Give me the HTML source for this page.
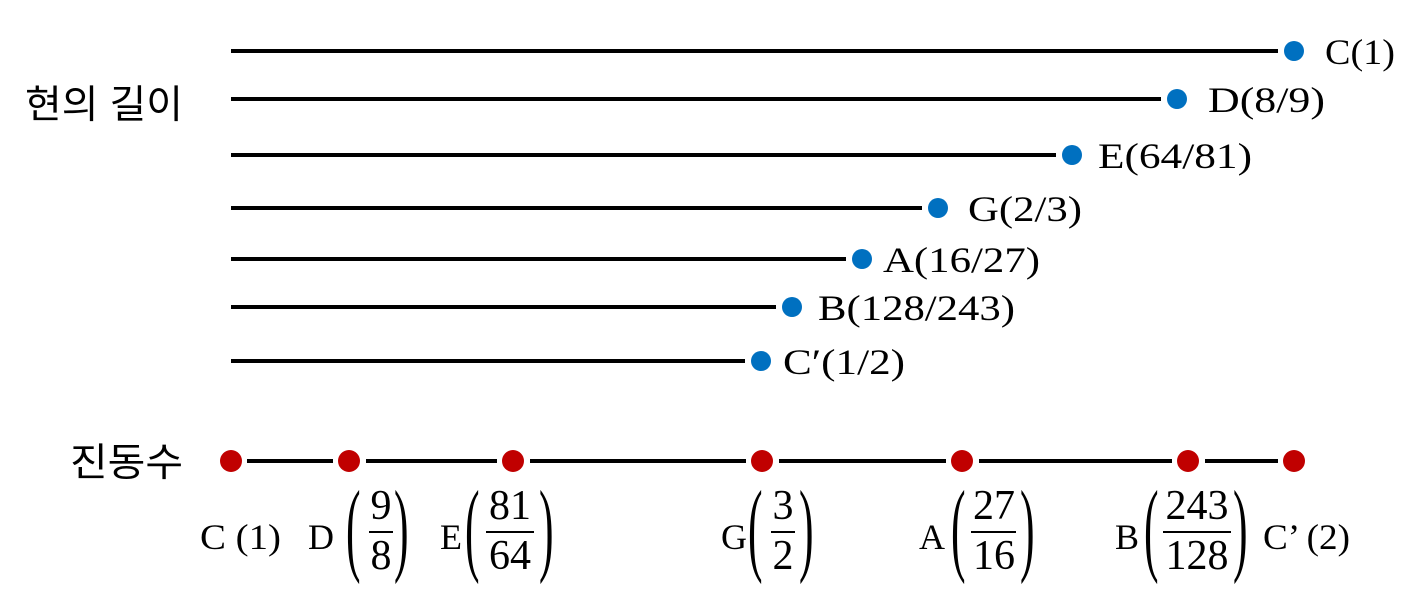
<!DOCTYPE html>
<html><head><meta charset="utf-8"><style>
html,body{margin:0;padding:0;background:#fff;}
svg{display:block;}
.s{font-family:"Liberation Serif",serif;fill:#000;}
.k{font-family:"Liberation Sans","Noto Sans CJK KR",sans-serif;fill:#000;font-size:39px;}
</style></head><body>
<svg width="1417" height="592" viewBox="0 0 1417 592" xmlns="http://www.w3.org/2000/svg">
<g stroke="#000" stroke-width="4">
<line x1="231" y1="51" x2="1278" y2="51"/>
<line x1="231" y1="99" x2="1161" y2="99"/>
<line x1="231" y1="155" x2="1056" y2="155"/>
<line x1="231" y1="208" x2="922" y2="208"/>
<line x1="231" y1="259" x2="846" y2="259"/>
<line x1="231" y1="307" x2="776" y2="307"/>
<line x1="231" y1="361" x2="745" y2="361"/>
</g>
<g fill="#0070c0">
<circle cx="1294" cy="51" r="10"/><circle cx="1177" cy="99" r="10"/><circle cx="1072" cy="155" r="10"/>
<circle cx="938" cy="208" r="10"/><circle cx="862" cy="259" r="10"/><circle cx="792" cy="307" r="10"/><circle cx="761" cy="361" r="10"/>
</g>
<g class="s" font-size="36">
<text x="1325" y="64" textLength="70" lengthAdjust="spacingAndGlyphs">C(1)</text>
<text x="1208" y="112" textLength="117" lengthAdjust="spacingAndGlyphs">D(8/9)</text>
<text x="1098" y="168" textLength="154" lengthAdjust="spacingAndGlyphs">E(64/81)</text>
<text x="968" y="221" textLength="114" lengthAdjust="spacingAndGlyphs">G(2/3)</text>
<text x="883" y="272" textLength="157" lengthAdjust="spacingAndGlyphs">A(16/27)</text>
<text x="818" y="320" textLength="197" lengthAdjust="spacingAndGlyphs">B(128/243)</text>
<text x="783" y="374" textLength="122" lengthAdjust="spacingAndGlyphs">C′(1/2)</text>
</g>
<text class="k" x="25" y="118" textLength="158" lengthAdjust="spacingAndGlyphs">현의 길이</text>
<text class="k" x="70" y="476" textLength="113" lengthAdjust="spacingAndGlyphs">진동수</text>
<g stroke="#000" stroke-width="4">
<line x1="247" y1="461" x2="333" y2="461"/>
<line x1="366" y1="461" x2="497" y2="461"/>
<line x1="530" y1="461" x2="746" y2="461"/>
<line x1="779" y1="461" x2="946" y2="461"/>
<line x1="979" y1="461" x2="1172" y2="461"/>
<line x1="1205" y1="461" x2="1278" y2="461"/>
</g>
<g fill="#c00000">
<circle cx="231" cy="461" r="11"/><circle cx="349" cy="461" r="11"/><circle cx="513" cy="461" r="11"/>
<circle cx="762" cy="461" r="11"/><circle cx="962" cy="461" r="11"/><circle cx="1188" cy="461" r="11"/><circle cx="1294" cy="461" r="11"/>
</g>
<g class="s" font-size="36">
<text x="200" y="549" textLength="81" lengthAdjust="spacingAndGlyphs">C (1)</text>
<text x="308" y="549">D</text>
<text x="440" y="549">E</text>
<text x="721" y="549">G</text>
<text x="919" y="549">A</text>
<text x="1115" y="549">B</text>
<text x="1263" y="549" textLength="87" lengthAdjust="spacingAndGlyphs">C’ (2)</text>
</g>
<g class="s" font-size="104">
<text transform="translate(346,562) scale(0.42,1)">(</text>
<text transform="translate(394,562) scale(0.42,1)">)</text>
<text transform="translate(465,562) scale(0.42,1)">(</text>
<text transform="translate(539,562) scale(0.42,1)">)</text>
<text transform="translate(748,562) scale(0.42,1)">(</text>
<text transform="translate(799,562) scale(0.42,1)">)</text>
<text transform="translate(951,562) scale(0.42,1)">(</text>
<text transform="translate(1020,562) scale(0.42,1)">)</text>
<text transform="translate(1144,562) scale(0.42,1)">(</text>
<text transform="translate(1233,562) scale(0.42,1)">)</text>
</g>
<g stroke="#000" stroke-width="2">
<line x1="369" y1="532" x2="393" y2="532"/>
<line x1="486" y1="532" x2="534" y2="532"/>
<line x1="771" y1="532" x2="795" y2="532"/>
<line x1="971" y1="532" x2="1016" y2="532"/>
<line x1="1163" y1="532" x2="1231" y2="532"/>
</g>
<g class="s" font-size="42" text-anchor="middle">
<text x="381" y="519">9</text><text x="381" y="569">8</text>
<text x="510" y="519">81</text><text x="510" y="569">64</text>
<text x="783" y="519">3</text><text x="783" y="569">2</text>
<text x="994" y="519">27</text><text x="994" y="569">16</text>
<text x="1197" y="519">243</text><text x="1197" y="569">128</text>
</g>
</svg>
</body></html>
